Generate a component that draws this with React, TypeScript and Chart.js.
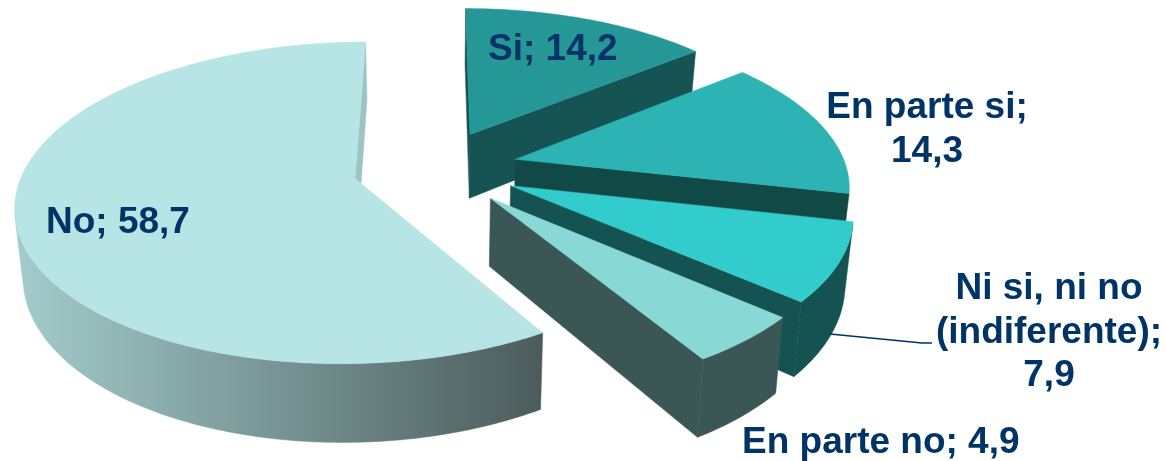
import React, { useEffect, useRef } from "react";
import { Chart, PieController, ArcElement } from "chart.js";

// ---- data ----
const categories = ["Si", "En parte si", "Ni si, ni no (indiferente)", "En parte no", "No"];
const values = [14.2, 14.3, 7.9, 4.9, 58.7];

// ---- styles ----
const topColors = ["#259797", "#2db3b3", "#33cccc", "#88d9d6", "#b7e4e4"];
const wallColors = ["#165454", "#114947", "#145352", "#3a5756", "#9dc4c4"];
const explosion = [25, 25, 25, 25, 25]; // percent of the radius, as in a spreadsheet's point explosion

const TEXT = "#003366";
const FONT = 'bold 37px "Liberation Sans", Arial, sans-serif';
const LINE = 43.5;

// perspective view of the pie plane
const VIEW = { ox: 435.5, oy: 168, a: 331, b: 154, p: 0.15, shrink: 0.98, depth: 66, depthB: 10 };

type Pt = [number, number];
const topPt = (X: number, Y: number): Pt => {
  const w = 1 - VIEW.p * Y;
  return [VIEW.ox + (VIEW.a * X) / w, VIEW.oy + (VIEW.b * Y) / w];
};
const botPt = (X: number, Y: number): Pt => {
  const w = 1 - VIEW.p * Y;
  return [
    VIEW.ox + (VIEW.a * VIEW.shrink * X) / w,
    VIEW.oy + VIEW.depth + ((VIEW.b + VIEW.depthB) * Y) / w,
  ];
};
const area = (pts: Pt[]) => {
  let s = 0;
  pts.forEach((p, i) => {
    const q = pts[(i + 1) % pts.length];
    s += p[0] * q[1] - q[0] * p[1];
  });
  return s;
};
const fillPoly = (ctx: CanvasRenderingContext2D, pts: Pt[], fill: any) => {
  ctx.beginPath();
  pts.forEach((p, i) => (i ? ctx.lineTo(p[0], p[1]) : ctx.moveTo(p[0], p[1])));
  ctx.closePath();
  ctx.fillStyle = fill;
  ctx.strokeStyle = fill;
  ctx.lineWidth = 0.5;
  ctx.fill();
  ctx.stroke();
};

class Pie3DController extends PieController {
  static id = "pie3d";
  draw() {
    const ctx: CanvasRenderingContext2D = this.chart.ctx;
    const arcs: any[] = this._cachedMeta.data as any[];
    const grad = ctx.createLinearGradient(20, 0, 540, 0);
    grad.addColorStop(0, "#a3cbcb");
    grad.addColorStop(1, "#4c5c5c");
    arcs.forEach((arc, i) => {
      const start = arc.startAngle;
      const end = arc.endAngle;
      const mid = (start + end) / 2;
      const e = (arc.options.offset || 0) / 100;
      const ax = Math.cos(mid) * e;
      const ay = Math.sin(mid) * e;
      const steps = Math.max(4, Math.ceil(((end - start) * 180) / Math.PI));
      const rim: Pt[] = [];
      for (let k = 0; k <= steps; k++) {
        const t = start + ((end - start) * k) / steps;
        rim.push([ax + Math.cos(t), ay + Math.sin(t)]);
      }
      const T = rim.map((r) => topPt(r[0], r[1]));
      const Bt = rim.map((r) => botPt(r[0], r[1]));
      const apexT = topPt(ax, ay);
      const apexB = botPt(ax, ay);
      const radial = wallColors[i];
      const arcFill = i === arcs.length - 1 ? grad : wallColors[i];

      // radial walls that face the viewer
      const q1: Pt[] = [apexT, T[0], Bt[0], apexB];
      if (area(q1) < 0) fillPoly(ctx, q1, radial);
      const q2: Pt[] = [T[steps], apexT, apexB, Bt[steps]];
      if (area(q2) < 0) fillPoly(ctx, q2, radial);

      // outer wall: contiguous runs of facing segments
      let run: number[] = [];
      const flush = () => {
        if (run.length > 1) {
          const poly: Pt[] = [...run.map((k) => T[k]), ...run.slice().reverse().map((k) => Bt[k])];
          fillPoly(ctx, poly, arcFill);
        }
        run = [];
      };
      for (let k = 0; k < steps; k++) {
        const facing = area([T[k], T[k + 1], Bt[k + 1], Bt[k]]) < 0;
        if (facing) {
          if (!run.length) run.push(k);
          run.push(k + 1);
        } else flush();
      }
      flush();

      // top face
      fillPoly(ctx, [apexT, ...T], arc.options.backgroundColor);
    });
  }
}

const fmt = (v: number) => v.toFixed(1).replace(".", ",");
const labelLayout = [
  { x: 488, y: 60, align: "left", width: 400 },
  { x: 927, y: 118, align: "center", width: 240 },
  { x: 1049, y: 299, align: "center", width: 240 },
  { x: 742, y: 453, align: "left", width: 400 },
  { x: 46, y: 233, align: "left", width: 400 },
];

const labelsPlugin = {
  id: "pieLabels",
  afterDatasetsDraw(chart: any) {
    const ctx: CanvasRenderingContext2D = chart.ctx;
    ctx.save();
    // leader line for the third label
    ctx.strokeStyle = TEXT;
    ctx.lineWidth = 1.5;
    ctx.beginPath();
    ctx.moveTo(830, 334);
    ctx.lineTo(922, 343);
    ctx.lineTo(932, 343);
    ctx.stroke();

    ctx.font = FONT;
    ctx.fillStyle = TEXT;
    ctx.textBaseline = "alphabetic";
    categories.forEach((c, i) => {
      const l = labelLayout[i];
      ctx.textAlign = l.align as CanvasTextAlign;
      const words = `${c}; ${fmt(values[i])}`.split(" ");
      const lines: string[] = [];
      let cur = "";
      words.forEach((w) => {
        const next = cur ? cur + " " + w : w;
        if (ctx.measureText(next).width > l.width && cur) {
          lines.push(cur);
          cur = w;
        } else cur = next;
      });
      lines.push(cur);
      lines.forEach((t, k) => ctx.fillText(t, l.x, l.y + k * LINE));
    });
    ctx.restore();
  },
};

Chart.register(Pie3DController, ArcElement);

export default function App() {
  const ref = useRef<HTMLCanvasElement>(null);
  useEffect(() => {
    const chart = new Chart(ref.current!, {
      type: "pie3d" as any,
      data: {
        labels: categories,
        datasets: [{ data: values, backgroundColor: topColors, offset: explosion, borderWidth: 0 } as any],
      },
      options: {
        animation: false,
        responsive: false,
        rotation: 0,
        plugins: { legend: { display: false }, tooltip: { enabled: false } },
      } as any,
      plugins: [labelsPlugin as any],
    });
    return () => chart.destroy();
  }, []);
  return (
    <canvas
      ref={ref}
      width={1166}
      height={461}
      style={{ position: "absolute", left: 0, top: 0, width: 1166, height: 461, display: "block" }}
    />
  );
}
